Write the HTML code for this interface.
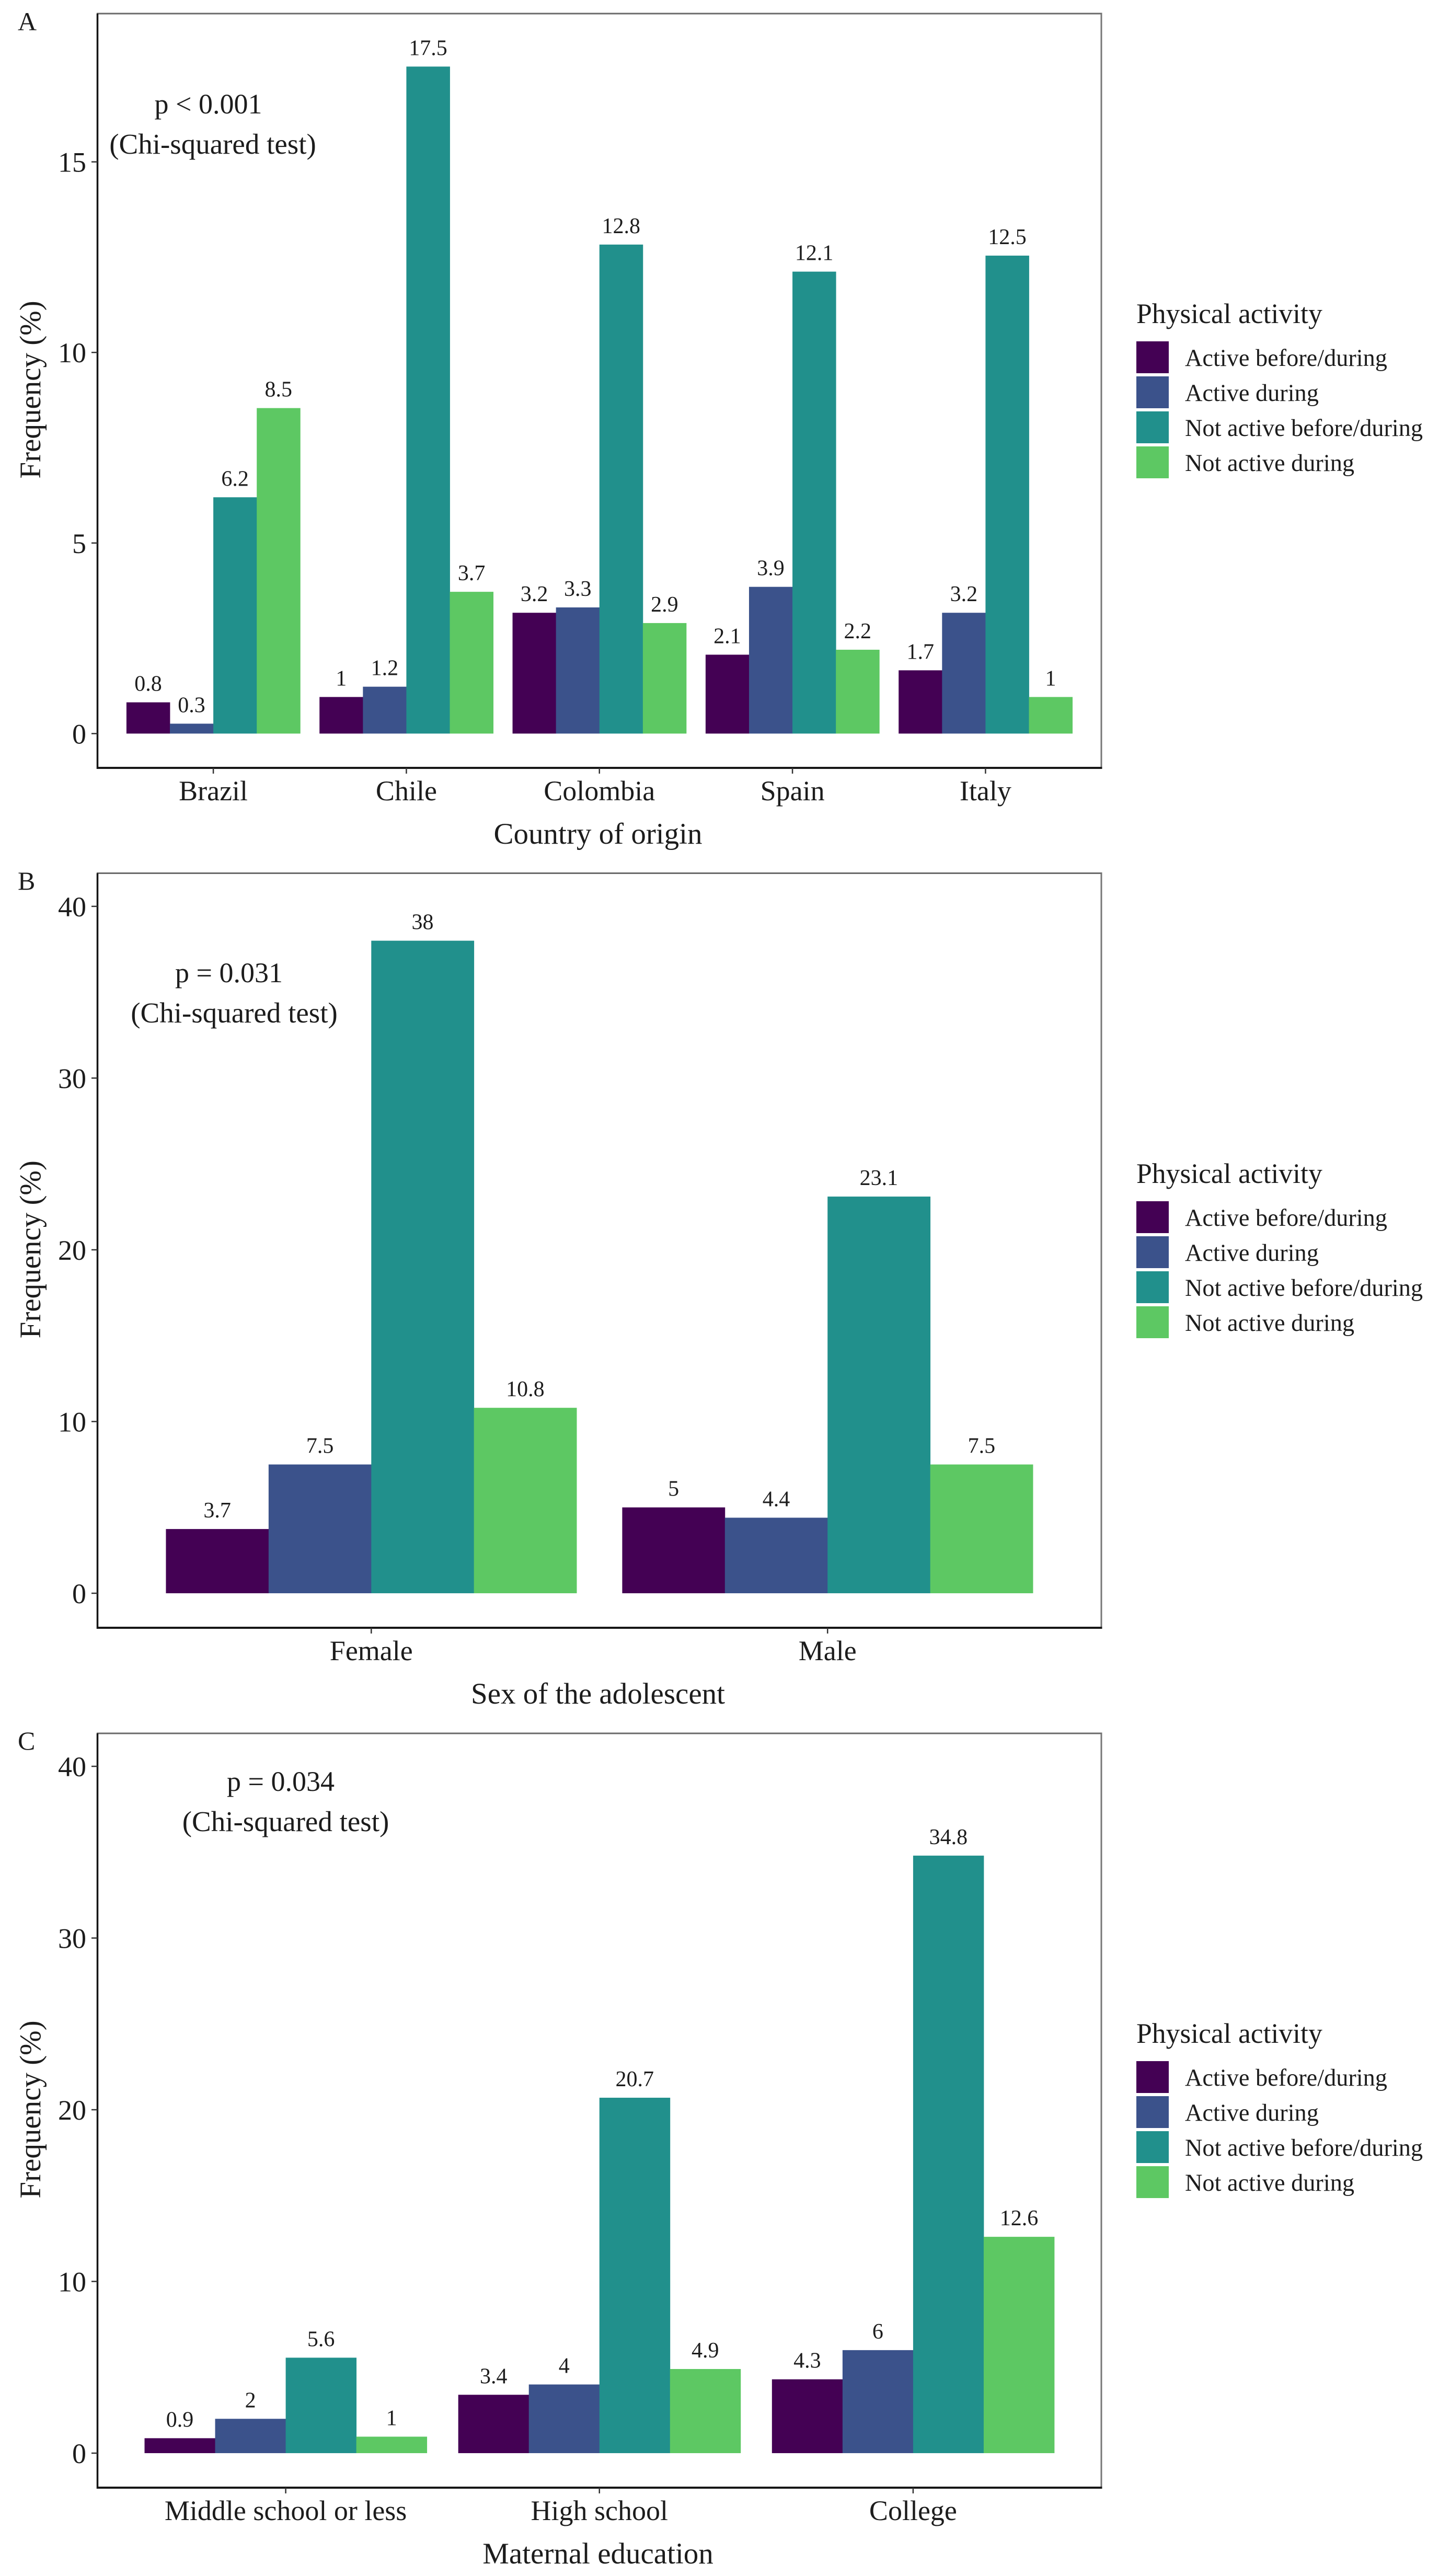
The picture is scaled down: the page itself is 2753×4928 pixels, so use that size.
<!DOCTYPE html>
<html lang="en">
<head>
<meta charset="utf-8">
<title>Physical activity frequency charts</title>
<style>
  html, body { margin: 0; padding: 0; background: #fff; }
  svg { display: block; }
  text { font-family: "Liberation Serif", "Times New Roman", serif; fill: #1c1c1c; }
</style>
</head>
<body>
<svg id="chart" xmlns="http://www.w3.org/2000/svg" width="2753" height="4928" viewBox="0 0 2753 4928">
  <rect x="0" y="0" width="2753" height="4928" fill="#ffffff"></rect>
</svg>
<script>
// Shared legend
const seriesNames = ['Active before/during', 'Active during', 'Not active before/during', 'Not active during'];
const seriesColors = ['#440154', '#3b528b', '#21908c', '#5dc863'];

// Panel A: country of origin
const countryCategories = ['Brazil', 'Chile', 'Colombia', 'Spain', 'Italy'];
const countryActiveBeforeDuring = [0.82, 0.96, 3.17, 2.07, 1.66];
const countryActiveDuring = [0.26, 1.23, 3.31, 3.85, 3.17];
const countryNotActiveBeforeDuring = [6.2, 17.5, 12.83, 12.12, 12.54];
const countryNotActiveDuring = [8.54, 3.72, 2.9, 2.2, 0.96];
const countryTicks = [0, 5, 10, 15];

// Panel B: sex of the adolescent
const sexCategories = ['Female', 'Male'];
const sexActiveBeforeDuring = [3.74, 5];
const sexActiveDuring = [7.5, 4.4];
const sexNotActiveBeforeDuring = [38, 23.1];
const sexNotActiveDuring = [10.8, 7.5];
const sexTicks = [0, 10, 20, 30, 40];

// Panel C: maternal education
const educationCategories = ['Middle school or less', 'High school', 'College'];
const educationActiveBeforeDuring = [0.87, 3.4, 4.3];
const educationActiveDuring = [2, 4, 6];
const educationNotActiveBeforeDuring = [5.56, 20.7, 34.8];
const educationNotActiveDuring = [0.96, 4.9, 12.6];
const educationTicks = [0, 10, 20, 30, 40];

const svgNS = 'http://www.w3.org/2000/svg';
const root = document.getElementById('chart');

function rect(parent, x, y, w, h, fill) {
  const el = document.createElementNS(svgNS, 'rect');
  el.setAttribute('x', x);
  el.setAttribute('y', y);
  el.setAttribute('width', w);
  el.setAttribute('height', h);
  el.setAttribute('fill', fill);
  parent.appendChild(el);
  return el;
}

function line(parent, x1, y1, x2, y2, stroke, width) {
  const el = document.createElementNS(svgNS, 'line');
  el.setAttribute('x1', x1);
  el.setAttribute('y1', y1);
  el.setAttribute('x2', x2);
  el.setAttribute('y2', y2);
  el.setAttribute('stroke', stroke);
  el.setAttribute('stroke-width', width);
  parent.appendChild(el);
  return el;
}

function text(parent, x, y, content, size, anchor) {
  const el = document.createElementNS(svgNS, 'text');
  el.setAttribute('x', x);
  el.setAttribute('y', y);
  el.setAttribute('font-size', size);
  el.setAttribute('text-anchor', anchor || 'middle');
  el.textContent = content;
  parent.appendChild(el);
  return el;
}

function group(parent) {
  const el = document.createElementNS(svgNS, 'g');
  parent.appendChild(el);
  return el;
}

function formatValue(v) {
  return String(Math.round(v * 10) / 10);
}

function drawPanel(cfg) {
  const g = group(root);
  
  

  const left = 186.5, right = 2107, top = cfg.top, bottom = cfg.bottom;
  const yScale = v => bottom - (v - cfg.yMin) / (cfg.yMax - cfg.yMin) * (bottom - top);
  const n = cfg.categories.length;
  const pitch = (right - left) / (n - 1 + 1.2);
  const xScale = i => left + (0.6 + i) * pitch;
  const barW = pitch * 0.9 / cfg.series.length;

  // panel letter
  const letter = text(g, 34, cfg.letterY, cfg.letter, 50, 'start');
  
  

  // bars and value labels
  cfg.series.forEach((values, s) => {
    values.forEach((v, i) => {
      const bx = xScale(i) - pitch * 0.45 + s * barW;
      const by = yScale(v);
      const bar = rect(g, bx, by, barW + 0.4, yScale(0) - by, seriesColors[s]);
      
      
      const label = text(g, bx + barW / 2, by - 22, formatValue(v), 42);
      
      
    });
  });

  // panel border
  const borderTop = line(g, left - 1.5, top, right + 1.5, top, '#6a6a6a', 3);
  
  
  const borderRight = line(g, right, top, right, bottom, '#777777', 3);
  
  
  const borderLeft = line(g, left, top, left, bottom + 2, '#161616', 3.5);
  
  
  const borderBottom = line(g, left - 1.5, bottom, right + 1.5, bottom, '#161616', 4);
  
  

  // y ticks
  cfg.ticks.forEach(t => {
    const ty = yScale(t);
    const tick = line(g, 175, ty, left, ty, '#333333', 2.5);
    
    
    const label = text(g, 165, ty + 19, String(t), 54, 'end');
    
    
  });

  // x ticks
  cfg.categories.forEach((c, i) => {
    const tx = xScale(i);
    const tick = line(g, tx, bottom, tx, bottom + 11, '#333333', 2.5);
    
    
    const label = text(g, tx, bottom + 62, c, 54);
    
    
  });

  // axis titles
  const xTitle = text(g, 1144, bottom + 145, cfg.xTitle, 57);
  
  
  const cy = (top + bottom) / 2 - 2;
  const yTitle = text(g, 77, cy, 'Frequency (%)', 57);
  yTitle.setAttribute('transform', 'rotate(-90 77 ' + cy + ')');
  
  

  // annotation
  const p = text(g, cfg.pX, cfg.pY, cfg.pText, 54);
  
  
  const chi = text(g, cfg.chiX, cfg.pY + 77, '(Chi-squared test)', 55);
  
  

  // legend
  const legend = group(g);
  
  
  const ly = cfg.legendY;
  const title = text(legend, 2174, ly, 'Physical activity', 53.6, 'start');
  
  
  seriesNames.forEach((name, s) => {
    const swatch = rect(legend, 2174, ly + 35 + s * 67, 62, 61, seriesColors[s]);
    
    
    const label = text(legend, 2267, ly + 82 + s * 67, name, 46.3, 'start');
    
    
  });
}

drawPanel({
  letter: 'A', letterY: 58, top: 26, bottom: 1469, yMin: -0.9, yMax: 18.89,
  categories: countryCategories,
  series: [countryActiveBeforeDuring, countryActiveDuring, countryNotActiveBeforeDuring, countryNotActiveDuring],
  ticks: countryTicks, xTitle: 'Country of origin',
  pText: 'p < 0.001', pX: 398.5, chiX: 407, pY: 217, legendY: 618
});

drawPanel({
  letter: 'B', letterY: 1702, top: 1670.5, bottom: 3114, yMin: -2.01, yMax: 41.93,
  categories: sexCategories,
  series: [sexActiveBeforeDuring, sexActiveDuring, sexNotActiveBeforeDuring, sexNotActiveDuring],
  ticks: sexTicks, xTitle: 'Sex of the adolescent',
  pText: 'p = 0.031', pX: 438, chiX: 448, pY: 1879, legendY: 2263
});

drawPanel({
  letter: 'C', letterY: 3347, top: 3316, bottom: 4759, yMin: -2.01, yMax: 41.92,
  categories: educationCategories,
  series: [educationActiveBeforeDuring, educationActiveDuring, educationNotActiveBeforeDuring, educationNotActiveDuring],
  ticks: educationTicks, xTitle: 'Maternal education',
  pText: 'p = 0.034', pX: 537, chiX: 546.5, pY: 3426, legendY: 3908
});
</script>
</body>
</html>
